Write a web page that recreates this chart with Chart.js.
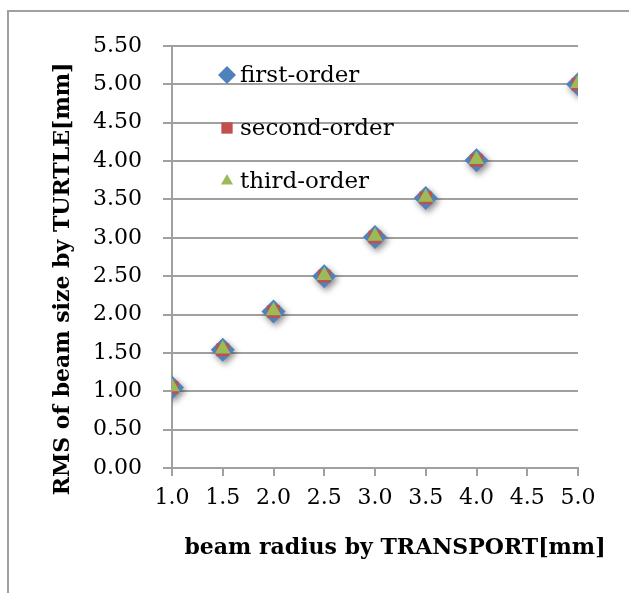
<!DOCTYPE html>
<html>
<head>
<meta charset="utf-8">
<script src="https://cdn.jsdelivr.net/npm/chart.js@4/dist/chart.umd.min.js"></script>
<style>
    html, body { margin: 0; padding: 0; background: #fff; }
    #wrap { position: relative; width: 629px; height: 593px; overflow: hidden; }
    #frame { position: absolute; left: 7px; top: 10px; width: 700px; height: 700px; border: 2px solid #a0a0a0; }
    #chart { position: absolute; left: 0; top: 0; }
</style>
</head>
<body>
<div id="wrap">
    <div id="frame"></div>
    <canvas id="chart" width="629" height="593"></canvas>
</div>
<script>
const radius = [1.0, 1.5, 2.0, 2.5, 3.0, 3.5, 4.0, 5.0];
const firstOrder = [1.05, 1.54, 2.04, 2.50, 3.01, 3.52, 4.01, 5.00];
const secondOrder = [1.05, 1.54, 2.04, 2.50, 3.01, 3.52, 4.01, 5.00];
const thirdOrder = [1.06, 1.55, 2.05, 2.51, 3.02, 3.53, 4.02, 5.01];
const seriesNames = ['first-order', 'second-order', 'third-order'];
const xTitle = 'beam radius by TRANSPORT[mm]';
const yTitle = 'RMS of beam size by TURTLE[mm]';

const serif = "'DejaVu Serif', 'Liberation Serif', serif";

function toPoints(values) {
    return radius.map((r, i) => ({ x: r, y: values[i] }));
}

// soft drop shadow under the big diamonds only
const markerShadow = {
    id: 'markerShadow',
    beforeDatasetDraw(chart, args) {
        if (args.index !== 0) return;
        const c = chart.ctx;
        c.save();
        c.shadowColor = 'rgba(0,0,0,0.45)';
        c.shadowBlur = 6;
        c.shadowOffsetX = 2;
        c.shadowOffsetY = 3;
    },
    afterDatasetDraw(chart, args) {
        if (args.index !== 0) return;
        chart.ctx.restore();
    }
};

// legend sits inside the plot, top left
const innerLegend = {
    id: 'innerLegend',
    afterDraw(chart) {
        const c = chart.ctx;
        const area = chart.chartArea;
        c.save();
        chart.data.datasets.forEach((ds, i) => {
            const y = area.top + 29 + i * 53;
            const x = area.left + 55;
            c.fillStyle = ds.backgroundColor;
            c.strokeStyle = ds.backgroundColor;
            c.lineWidth = 0;
            Chart.helpers.drawPoint(c, {
                pointStyle: ds.pointStyle,
                radius: ds.legendRadius,
                rotation: 0,
                borderWidth: 0
            }, x, y);
            c.fillStyle = '#000';
            c.font = '23px ' + serif;
            c.textBaseline = 'middle';
            c.textAlign = 'left';
            c.fillText(ds.label, x + 13, y + 1);
        });
        c.restore();
    }
};

const axisTitles = {
    id: 'axisTitles',
    afterDraw(chart) {
        const c = chart.ctx;
        const area = chart.chartArea;
        c.save();
        c.fillStyle = '#000';
        c.font = 'bold 22px ' + serif;
        c.textAlign = 'center';
        c.textBaseline = 'middle';
        c.fillText(xTitle, (area.left + area.right) / 2 + 20, area.bottom + 80);
        c.translate(area.left - 109, (area.top + area.bottom) / 2 + 22);
        c.rotate(-Math.PI / 2);
        c.fillText(yTitle, 0, 0);
        c.restore();
    }
};

const chart = new Chart(document.getElementById('chart').getContext('2d'), {
    type: 'scatter',
    data: {
        datasets: [
            {
                label: seriesNames[0],
                data: toPoints(firstOrder),
                backgroundColor: '#4f81bd',
                borderColor: '#4f81bd',
                borderWidth: 0,
                pointStyle: 'rectRot',
                pointRadius: 12,
                legendRadius: 9,
                order: 3
            },
            {
                label: seriesNames[1],
                data: toPoints(secondOrder),
                backgroundColor: '#c0504d',
                borderColor: '#c0504d',
                borderWidth: 0,
                pointStyle: 'rect',
                pointRadius: 9,
                legendRadius: 8,
                order: 2
            },
            {
                label: seriesNames[2],
                data: toPoints(thirdOrder),
                backgroundColor: '#9bbb59',
                borderColor: '#9bbb59',
                borderWidth: 0,
                pointStyle: 'triangle',
                pointRadius: 9,
                legendRadius: 7,
                order: 1
            }
        ]
    },
    options: {
        responsive: false,
        animation: false,
        layout: {
            padding: { top: 46, right: 51, bottom: 0, left: 0 }
        },
        plugins: {
            legend: { display: false },
            tooltip: { enabled: false }
        },
        scales: {
            x: {
                type: 'linear',
                min: 1,
                max: 5,
                afterFit: scale => { scale.height = 125; },
                border: { display: true, color: '#a0a0a0', width: 2 },
                grid: { drawOnChartArea: false, drawTicks: true, tickLength: 8, color: '#a0a0a0', lineWidth: 2 },
                ticks: {
                    stepSize: 0.5,
                    color: '#000',
                    padding: 9,
                    font: { family: serif, size: 22 },
                    callback: v => v.toFixed(1)
                }
            },
            y: {
                min: 0,
                max: 5.5,
                afterFit: scale => { scale.width = 172; },
                border: { display: true, color: '#a0a0a0', width: 2 },
                grid: { color: '#a0a0a0', lineWidth: 2, tickLength: 9 },
                ticks: {
                    stepSize: 0.5,
                    color: '#000',
                    padding: 21,
                    font: { family: serif, size: 22 },
                    callback: v => v.toFixed(2)
                }
            }
        }
    },
    plugins: [markerShadow, innerLegend, axisTitles]
});
</script>
</body>
</html>
